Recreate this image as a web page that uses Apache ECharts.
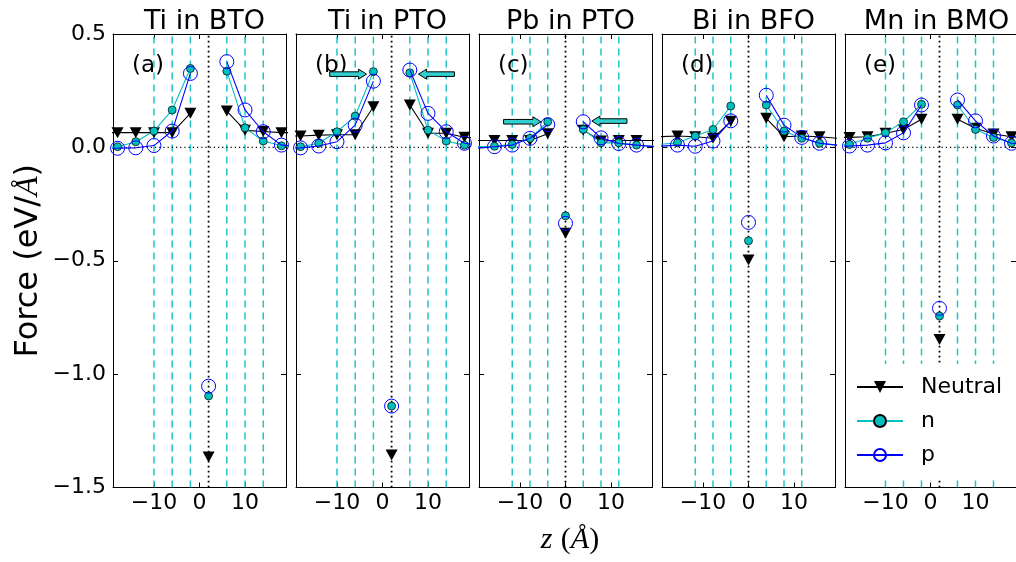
<!DOCTYPE html>
<html><head><meta charset="utf-8">
<script src="https://cdn.jsdelivr.net/npm/echarts@6/dist/echarts.min.js"></script>
<style>html,body{margin:0;padding:0;background:#fff}#c{width:1016px;height:562px}</style>
</head><body><div id="c"></div>
<script>
// ---------- data ----------
const panelTitles = ['Ti in BTO', 'Ti in PTO', 'Pb in PTO', 'Bi in BFO', 'Mn in BMO'];
const panelLetters = ['(a)', '(b)', '(c)', '(d)', '(e)'];
const seriesNames = ['Neutral', 'n', 'p'];
const xTicks = [-10, 0, 10];
const yTicks = [-1.5, -1.0, -0.5, 0.0, 0.5];

// z positions (Å); the middle entry is the defect site
const zTiBTO = [-22, -18, -14, -10, -6, -2, 2, 6, 10, 14, 18, 22];
const zTiPTO = [-22, -18, -14, -10, -6, -2, 2, 6, 10, 14, 18, 22];
const zPbPTO = [-19.5, -15.6, -11.7, -7.8, -3.9, 0, 3.9, 7.8, 11.7, 15.6, 19.5];
const zBiBFO = [-19.5, -15.6, -11.7, -7.8, -3.9, 0, 3.9, 7.8, 11.7, 15.6, 19.5];
const zMnBMO = [-22, -18, -14, -10, -6, -2, 2, 6, 10, 14, 18, 22];
const defectZ = [2, 2, 0, 0, 2];

// layer positions (dashed lines)
const layersTiBTO = [-10, -6, -2, 6, 10, 14];
const layersTiPTO = [-10, -6, -2, 6, 10, 14];
const layersPbPTO = [-11.7, -7.8, -3.9, 3.9, 7.8, 11.7];
const layersBiBFO = [-11.7, -7.8, -3.9, 3.9, 7.8, 11.7];
const layersMnBMO = [-10, -6, -2, 6, 10, 14];

// forces (eV/Å)
const neutralTiBTO = [0.065, 0.065, 0.065, 0.065, 0.065, 0.15, -1.366, 0.16, 0.075, 0.07, 0.065, 0.065];
const nTiBTO       = [0.0, 0.003, 0.025, 0.072, 0.165, 0.348, -1.096, 0.336, 0.086, 0.028, 0.007, 0.005];
const pTiBTO       = [-0.004, -0.004, -0.002, 0.008, 0.072, 0.326, -1.053, 0.378, 0.165, 0.069, 0.01, 0.005];

const neutralTiPTO = [0.05, 0.05, 0.054, 0.056, 0.056, 0.179, -1.357, 0.187, 0.062, 0.062, 0.045, 0.04];
const nTiPTO       = [0.0, 0.003, 0.018, 0.069, 0.138, 0.334, -1.141, 0.329, 0.076, 0.028, 0.01, 0.005];
const pTiPTO       = [-0.004, -0.002, 0.006, 0.025, 0.098, 0.292, -1.141, 0.341, 0.15, 0.069, 0.018, 0.01];

const neutralPbPTO = [0.03, 0.03, 0.03, 0.03, 0.06, -0.379, 0.076, 0.028, 0.03, 0.03, 0.03];
const nPbPTO       = [0.003, 0.005, 0.013, 0.04, 0.113, -0.302, 0.079, 0.02, 0.02, 0.01, 0.005];
const pPbPTO       = [-0.004, 0.003, 0.01, 0.04, 0.10, -0.335, 0.113, 0.042, 0.017, 0.01, 0.003];

const neutralBiBFO = [0.047, 0.05, 0.047, 0.04, 0.115, -0.497, 0.128, 0.047, 0.05, 0.047, 0.04];
const nBiBFO       = [0.013, 0.02, 0.05, 0.079, 0.182, -0.412, 0.187, 0.072, 0.04, 0.018, 0.01];
const pBiBFO       = [0.005, 0.01, 0.005, 0.028, 0.117, -0.331, 0.23, 0.098, 0.044, 0.018, 0.01];

const neutralMnBMO = [0.044, 0.044, 0.047, 0.062, 0.079, 0.124, -0.847, 0.124, 0.084, 0.059, 0.047, 0.047];
const nMnBMO       = [0.01, 0.013, 0.04, 0.064, 0.113, 0.19, -0.744, 0.187, 0.079, 0.044, 0.02, 0.015];
const pMnBMO       = [0.005, 0.006, 0.01, 0.02, 0.064, 0.187, -0.71, 0.209, 0.117, 0.05, 0.018, 0.015];

// arrows: [zStart, yStart, zTip, yTip]
const arrowsTiPTO = [[-11.6, 0.323, -3.5, 0.323], [15.8, 0.323, 7.9, 0.323]];
const arrowsPbPTO = [[-13.6, 0.113, -5.4, 0.113], [13.5, 0.116, 5.8, 0.116]];

// ---------- assembly ----------
const zAll = [zTiBTO, zTiPTO, zPbPTO, zBiBFO, zMnBMO];
const layersAll = [layersTiBTO, layersTiPTO, layersPbPTO, layersBiBFO, layersMnBMO];
const valuesAll = [
  [neutralTiBTO, nTiBTO, pTiBTO],
  [neutralTiPTO, nTiPTO, pTiPTO],
  [neutralPbPTO, nPbPTO, pPbPTO],
  [neutralBiBFO, nBiBFO, pBiBFO],
  [neutralMnBMO, nMnBMO, pMnBMO]
];
const arrowsAll = [[], arrowsTiPTO, arrowsPbPTO, [], []];

const X_MIN = -19, X_MAX = 19, Y_MIN = -1.5, Y_MAX = 0.5;
const GRID_LEFT0 = 113, GRID_STEP = 183, GRID_W = 173, GRID_TOP = 34, GRID_H = 453.5;
const FONT = 'DejaVu Sans';
const CYAN = '#00bfbf', DASHCYAN = '#20c4c4';
const minus = s => String(s).replace('-', '\u2212');

const grids = [], xAxes = [], yAxes = [], series = [], titles = [];

const styles = [
  { symbol: 'path://M0,0 L10,0 L5,9 Z', symbolSize: [12, 11], color: '#000', item: { color: '#000' } },
  { symbol: 'circle', symbolSize: 8, color: CYAN, item: { color: CYAN, borderColor: '#000', borderWidth: 0.7 } },
  { symbol: 'circle', symbolSize: 14, color: '#0000ff', item: { color: 'rgba(255,255,255,0)', borderColor: '#0000ff', borderWidth: 1 } }
];

for (let i = 0; i < 5; i++) {
  const left = GRID_LEFT0 + i * GRID_STEP;
  grids.push({ left: left, top: GRID_TOP, width: GRID_W, height: GRID_H, containLabel: false });
  const baseX = {
    type: 'value', gridIndex: i, min: X_MIN, max: X_MAX,
    axisLine: { onZero: false, lineStyle: { color: '#000', width: 1 } },
    axisTick: { inside: true, length: 5, customValues: xTicks, lineStyle: { color: '#000' } },
    splitLine: { show: false }
  };
  xAxes.push(Object.assign({}, baseX, {
    position: 'bottom',
    axisLabel: { customValues: xTicks, formatter: v => minus(v), color: '#000', fontSize: 22, fontFamily: FONT, margin: 5 }
  }));
  xAxes.push(Object.assign({}, baseX, { position: 'top', axisLabel: { show: false } }));
  const baseY = {
    type: 'value', gridIndex: i, min: Y_MIN, max: Y_MAX, interval: 0.5,
    axisLine: { onZero: false, lineStyle: { color: '#000', width: 1 } },
    axisTick: { inside: true, length: 5, lineStyle: { color: '#000' } },
    splitLine: { show: false }
  };
  const yl = Object.assign({}, baseY, {
    position: 'left',
    axisLabel: { show: i === 0, formatter: v => minus(v.toFixed(1)), color: '#000', fontSize: 22, fontFamily: FONT, margin: 7 }
  });
  if (i === 0) {
    yl.name = '{a|Force (eV/}{b|Å}{a|)}';
    yl.nameLocation = 'middle';
    yl.nameRotate = 90;
    yl.nameGap = 68;
    yl.nameTextStyle = {
      rich: {
        a: { fontSize: 32, fontFamily: FONT, color: '#000', fontWeight: 'normal' },
        b: { fontSize: 32, fontFamily: 'Liberation Serif', fontStyle: 'italic', color: '#000', fontWeight: 'normal' }
      }
    };
  }
  yAxes.push(yl);
  yAxes.push(Object.assign({}, baseY, { position: 'right', axisLabel: { show: false } }));

  const xi = 2 * i, yi = 2 * i;
  const z = zAll[i];
  const d = defectZ[i];

  // reference lines: [x1, y1, x2, y2, kind]
  const refRows = layersAll[i].map(v => [v, Y_MIN, v, Y_MAX, 0]);
  refRows.push([d, Y_MIN, d, Y_MAX, 1]);
  refRows.push([X_MIN, 0, X_MAX, 0, 2]);
  series.push({
    type: 'custom', xAxisIndex: xi, yAxisIndex: yi, z: 1, silent: true, clip: true,
    encode: { x: [0, 2], y: [1, 3] },
    data: refRows,
    renderItem: (params, api) => {
      const a = api.coord([api.value(0), api.value(1)]);
      const b = api.coord([api.value(2), api.value(3)]);
      const kind = api.value(4);
      let style;
      if (kind === 0) style = { stroke: DASHCYAN, lineWidth: 1.5, lineDash: [7, 5] };
      else if (kind === 1) style = { stroke: '#000', lineWidth: 1.8, lineDash: [1.8, 3.2] };
      else style = { stroke: '#000', lineWidth: 1.2, lineDash: [1.2, 3] };
      return { type: 'line', shape: { x1: a[0], y1: a[1], x2: b[0], y2: b[1] }, style: style };
    }
  });

  // data series
  const di = z.indexOf(d);
  for (let s = 0; s < 3; s++) {
    const vals = valuesAll[i][s];
    const data = [];
    for (let k = 0; k < z.length; k++) {
      if (k === di) {
        data.push([d, '-']);
        data.push([z[k], vals[k]]);
        data.push([d, '-']);
      } else {
        data.push([z[k], vals[k]]);
      }
    }
    const st = styles[s];
    series.push({
      type: 'line', name: seriesNames[s], xAxisIndex: xi, yAxisIndex: yi, z: 3 + s,
      data: data, connectNulls: false, clip: true,
      symbol: st.symbol, symbolSize: st.symbolSize, showSymbol: true, showAllSymbol: true,
      color: st.color,
      lineStyle: { color: st.color, width: 1.1 },
      itemStyle: st.item,
      emphasis: { disabled: true }, animation: false
    });
  }

  // arrows
  if (arrowsAll[i].length) {
    series.push({
      type: 'custom', xAxisIndex: xi, yAxisIndex: yi, z: 8, silent: true,
      encode: { x: [0, 2], y: [1, 3] },
      data: arrowsAll[i],
      renderItem: (params, api) => {
        const a = api.coord([api.value(0), api.value(1)]);
        const b = api.coord([api.value(2), api.value(3)]);
        const dx = b[0] - a[0], dy = b[1] - a[1];
        const L = Math.hypot(dx, dy), ux = dx / L, uy = dy / L, nx = -uy, ny = ux;
        const sw = 2.3, hw = 5, hl = 8;
        const bx = b[0] - ux * hl, by = b[1] - uy * hl;
        const pts = [
          [a[0] + nx * sw, a[1] + ny * sw], [bx + nx * sw, by + ny * sw], [bx + nx * hw, by + ny * hw],
          [b[0], b[1]],
          [bx - nx * hw, by - ny * hw], [bx - nx * sw, by - ny * sw], [a[0] - nx * sw, a[1] - ny * sw]
        ];
        return { type: 'polygon', shape: { points: pts }, style: { fill: '#30d0d0', stroke: '#000', lineWidth: 1 } };
      }
    });
  }

  titles.push({
    text: panelTitles[i], left: left + GRID_W / 2, top: 3, textAlign: 'center',
    textStyle: { fontSize: 27, fontWeight: 'normal', fontFamily: FONT, color: '#000' }
  });
  titles.push({
    text: panelLetters[i], left: left + 14, top: 50,
    textStyle: { fontSize: 23, fontWeight: 'normal', fontFamily: FONT, color: '#000' }
  });
}

titles.push({
  text: '{i|z} {r|(}{i|Å}{r|)}', left: 565, top: 520, textAlign: 'center',
  textStyle: {
    fontWeight: 'normal', fontSize: 30,
    rich: {
      i: { fontSize: 30, fontFamily: 'Liberation Serif', fontStyle: 'italic', fontWeight: 'normal', color: '#000' },
      r: { fontSize: 30, fontFamily: 'Liberation Serif', fontWeight: 'normal', color: '#000' }
    }
  }
});

const option = {
  backgroundColor: '#fff',
  animation: false,
  title: titles,
  grid: grids,
  xAxis: xAxes,
  yAxis: yAxes,
  legend: {
    data: seriesNames, orient: 'vertical', left: 846, top: 364, z: 20,
    backgroundColor: '#fff', padding: [12, 20, 12, 10],
    itemWidth: 46, itemHeight: 15, itemGap: 12,
    textStyle: { fontSize: 22, fontFamily: FONT, color: '#000', padding: [0, 0, 0, 13] },
    selectedMode: false
  },
  series: series
};

const chart = echarts.init(document.getElementById('c'), null, { renderer: 'canvas' });
chart.setOption(option);
</script>
</body></html>
